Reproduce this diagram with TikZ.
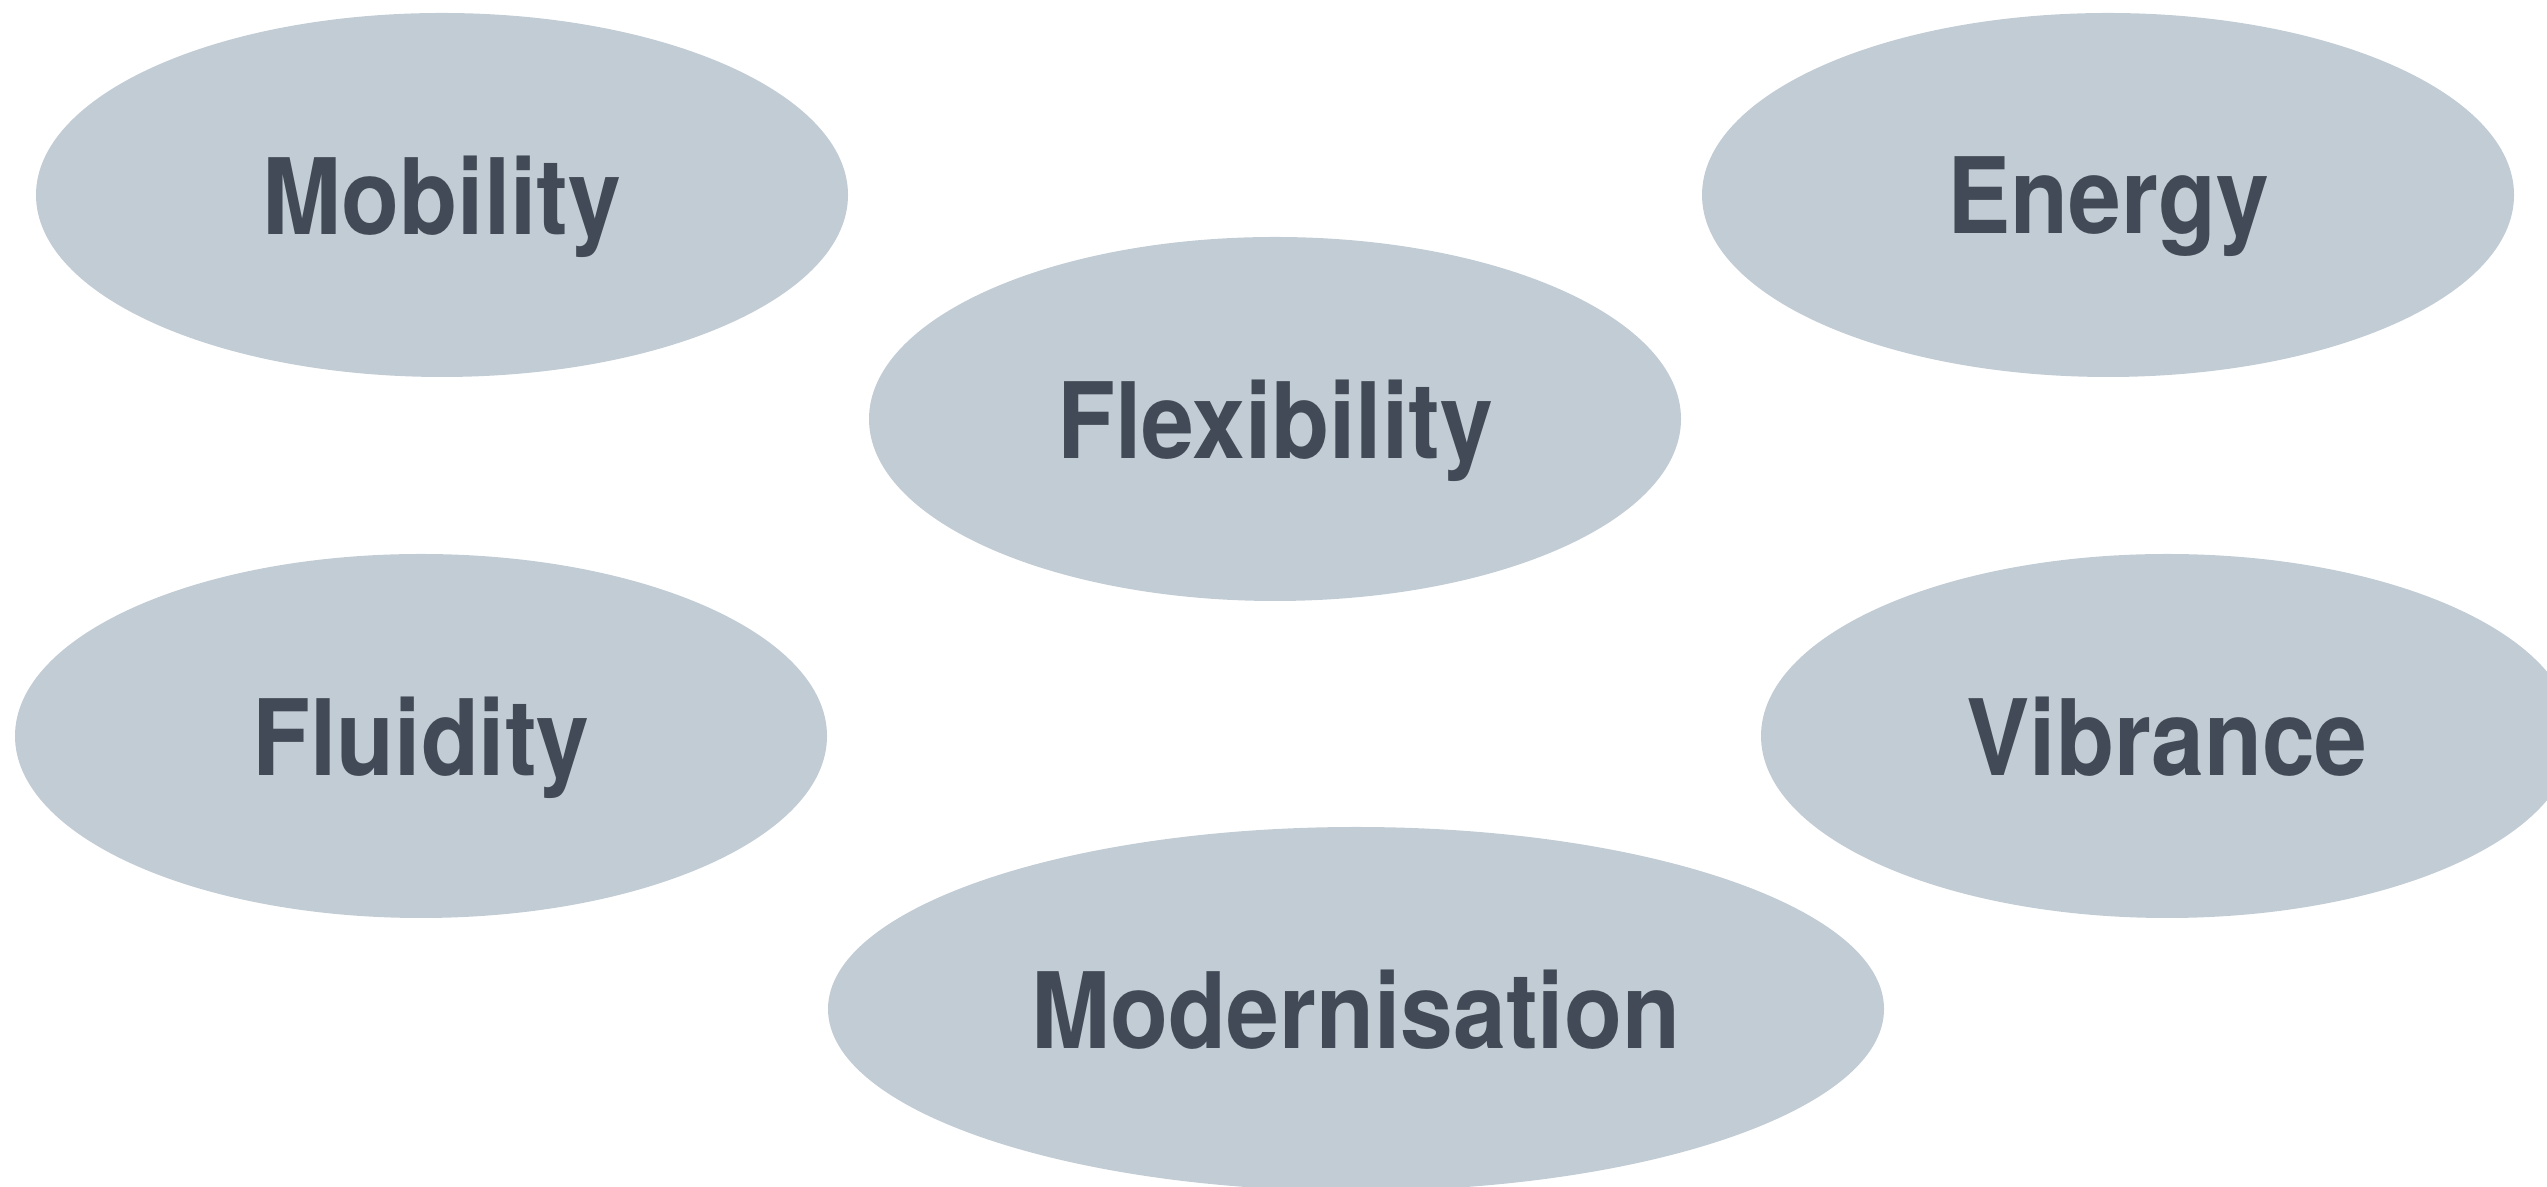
\documentclass[tikz,border=0pt]{standalone}
\usepackage{fontspec}
\setmainfont{TeX Gyre Heros}
\usetikzlibrary{shapes.geometric}
\definecolor{bubblefill}{HTML}{C2CCD5}
\definecolor{bubbletext}{HTML}{414A56}
\newcommand{\squeezed}[1]{\scalebox{0.9}[1]{#1}}
\tikzset{
  bubble/.style={ellipse, fill=bubblefill, text=bubbletext, inner sep=0pt,
    minimum width=8.12cm, minimum height=3.64cm, text depth=0pt,
    font=\fontsize{30}{36}\selectfont\bfseries},
  widebubble/.style={bubble, minimum width=10.56cm}
}
\begin{document}
\begin{tikzpicture}
    \useasboundingbox (0cm,0cm) rectangle (25.47cm,11.87cm);
    \clip (0cm,0cm) rectangle (25.47cm,11.87cm);
    \node[bubble] (mobility) at (4.42cm, 9.92cm) {\squeezed{Mobility}};
    \node[bubble] (energy) at (21.08cm, 9.92cm) {\squeezed{Energy}};
    \node[bubble] (flexibility) at (12.75cm, 7.68cm) {\squeezed{Flexibility}};
    \node[bubble] (fluidity) at (4.21cm, 4.51cm) {\squeezed{Fluidity}};
    \node[bubble] (vibrance) at (21.67cm, 4.51cm) {\squeezed{Vibrance}};
    \node[widebubble] (modernisation) at (13.56cm, 1.78cm) {\squeezed{Modernisation}};
\end{tikzpicture}
\end{document}
